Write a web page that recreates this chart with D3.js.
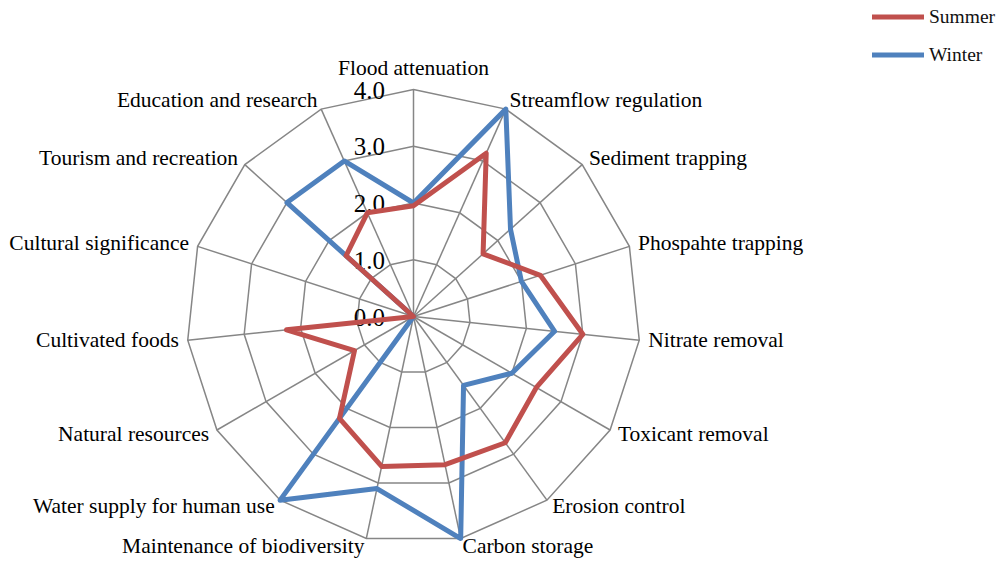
<!DOCTYPE html>
<html>
<head>
<meta charset="utf-8">
<script src="https://cdn.jsdelivr.net/npm/d3@7"></script>
<style>
  html, body { margin: 0; padding: 0; background: #fff; }
  svg { display: block; }
</style>
</head>
<body>
<svg id="chart" width="1006" height="565"></svg>
<script>
const categories = [
  "Flood attenuation", "Streamflow regulation", "Sediment trapping", "Phospahte trapping",
  "Nitrate removal", "Toxicant removal", "Erosion control", "Carbon storage",
  "Maintenance of biodiversity", "Water supply for human use", "Natural resources",
  "Cultivated foods", "Cultural significance", "Tourism and recreation", "Education and research"
];
const summer = [1.95, 3.15, 1.65, 2.35, 3.0, 2.5, 2.75, 2.67, 2.7, 2.22, 1.2, 2.25, 0, 1.6, 2.0];
const winter = [2.0, 4.0, 2.3, 2.0, 2.5, 2.0, 1.5, 4.0, 3.1, 4.0, 0, 0, 0, 3.0, 3.0];
const tickValues = [0, 1, 2, 3, 4];
const tickLabels = ["0.0", "1.0", "2.0", "3.0", "4.0"];
const seriesNames = ["Summer", "Winter"];
const seriesColors = ["#C0504D", "#4F81BD"];

const svg = d3.select("#chart");
svg.append("rect").attr("width", 1006).attr("height", 565).attr("fill", "#fff");

const cx = 413.5, cy = 316.5;
const rScale = d3.scaleLinear().domain([0, 4]).range([0, 227]);
const n = categories.length;
const angle = i => i * 2 * Math.PI / n;
const pt = (i, v) => [cx + rScale(v) * Math.sin(angle(i)), cy - rScale(v) * Math.cos(angle(i))];

const g = svg.append("g");

// rings
tickValues.filter(t => t > 0).forEach(t => {
  const pts = categories.map((c, i) => pt(i, t));
  g.append("polygon")
    .attr("points", pts.map(p => p.join(",")).join(" "))
    .attr("fill", "none").attr("stroke", "#868686").attr("stroke-width", 1.5);
});
// spokes
categories.forEach((c, i) => {
  const p = pt(i, 4);
  g.append("line").attr("x1", cx).attr("y1", cy).attr("x2", p[0]).attr("y2", p[1])
    .attr("stroke", "#868686").attr("stroke-width", 1.5);
});

// category labels
categories.forEach((c, i) => {
  const a = angle(i);
  const rr = rScale(4) + 9;
  let x = cx + rr * Math.sin(a), y = cy - rr * Math.cos(a);
  const s = Math.sin(a);
  let anchor = Math.abs(s) < 0.05 ? "middle" : (s > 0 ? "start" : "end");
  if (i === 0) y -= 12;
  g.append("text").attr("x", x).attr("y", y + 6)
    .attr("text-anchor", anchor)
    .attr("font-family", "'Liberation Serif', 'Times New Roman', serif")
    .attr("font-size", 21.5).attr("fill", "#000").text(c);
});

// tick labels
tickValues.forEach((t, k) => {
  g.append("text").attr("x", 385).attr("y", cy - rScale(t) + 9)
    .attr("text-anchor", "end")
    .attr("font-family", "'Liberation Serif', 'Times New Roman', serif")
    .attr("font-size", 25).attr("fill", "#000").text(tickLabels[k]);
});

// series
const line = d3.lineRadial()
  .angle((d, i) => angle(i))
  .radius(d => rScale(d))
  .curve(d3.curveLinearClosed);

[winter, summer].forEach((vals, k) => {
  const color = k === 0 ? seriesColors[1] : seriesColors[0];
  g.append("path")
    .attr("transform", `translate(${cx},${cy})`)
    .attr("d", line(vals))
    .attr("fill", "none").attr("stroke", color)
    .attr("stroke-width", 5).attr("stroke-linejoin", "round");
});

// legend
const legend = svg.append("g");
[17, 55].forEach((y, k) => {
  legend.append("line").attr("x1", 872).attr("x2", 924).attr("y1", y).attr("y2", y)
    .attr("stroke", seriesColors[k]).attr("stroke-width", 5);
  legend.append("text").attr("x", 929).attr("y", y + 6)
    .attr("font-family", "'Liberation Serif', 'Times New Roman', serif")
    .attr("font-size", 19.5).attr("fill", "#111").text(seriesNames[k]);
});
</script>
</body>
</html>
